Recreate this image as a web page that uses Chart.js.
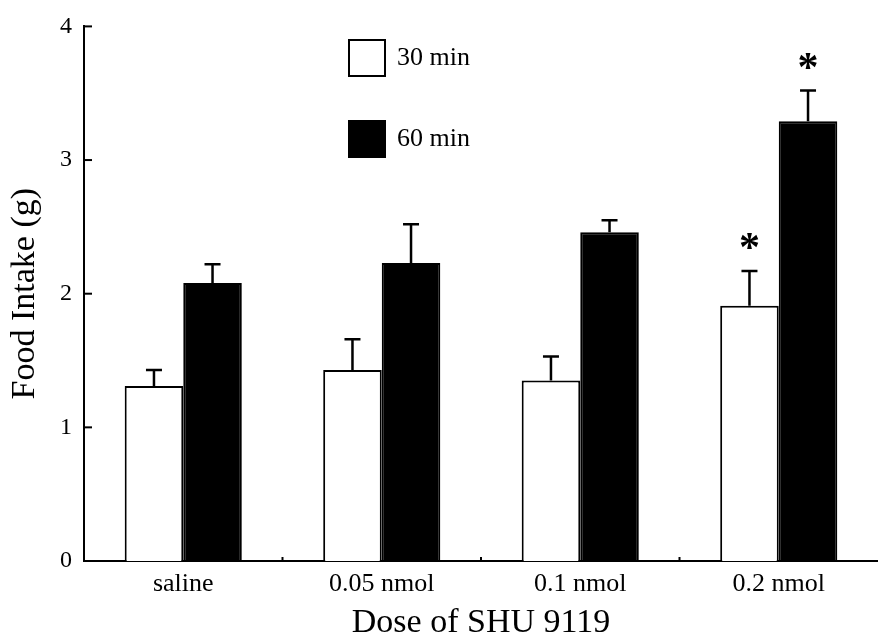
<!DOCTYPE html>
<html>
<head>
<meta charset="utf-8">
<script src="https://cdn.jsdelivr.net/npm/chart.js@4.4.1/dist/chart.umd.min.js"></script>
<style>
  html, body { margin: 0; padding: 0; background: #fff; }
  #wrap { width: 878px; height: 640px; }
</style>
</head>
<body>
<div id="wrap"><canvas id="chart" width="878" height="640"></canvas></div>
<script>
const doses = ['saline', '0.05 nmol', '0.1 nmol', '0.2 nmol']
const intake30 = [1.31, 1.43, 1.35, 1.91]
const err30 = [0.12, 0.23, 0.18, 0.26]
const sig30 = [false, false, false, true]
const intake60 = [2.08, 2.23, 2.46, 3.29]
const err60 = [0.14, 0.29, 0.09, 0.23]
const sig60 = [false, false, false, true]
const yTicks = [0, 1, 2, 3, 4]

const serif = '"Liberation Serif", "Times New Roman", serif'

// error bars (upper only), significance stars, inward ticks and the legend
const extras = {
  id: 'extras',
  afterDatasetsDraw(chart) {
    const ctx = chart.ctx
    const y = chart.scales.y
    const x = chart.scales.x
    const errs = [err30, err60]
    const sigs = [sig30, sig60]
    ctx.save()
    ctx.strokeStyle = '#000'
    ctx.fillStyle = '#000'
    ctx.lineWidth = 2.5
    chart.data.datasets.forEach((ds, di) => {
      chart.getDatasetMeta(di).data.forEach((bar, i) => {
        const top = y.getPixelForValue(ds.data[i] + errs[di][i])
        ctx.beginPath()
        ctx.moveTo(bar.x, bar.y)
        ctx.lineTo(bar.x, top)
        ctx.moveTo(bar.x - 8, top)
        ctx.lineTo(bar.x + 8, top)
        ctx.stroke()
        if (sigs[di][i]) {
          ctx.font = 'bold 42px ' + serif
          ctx.textAlign = 'center'
          ctx.textBaseline = 'alphabetic'
          ctx.fillText('*', bar.x, top - 10)
        }
      })
    })

    // y ticks pointing into the plot
    ctx.lineWidth = 2
    yTicks.forEach(v => {
      const py = y.getPixelForValue(v)
      ctx.beginPath()
      ctx.moveTo(y.right, py)
      ctx.lineTo(y.right + 8, py)
      ctx.stroke()
    })
    // small marks between dose groups
    for (let i = 1; i < doses.length; i++) {
      const px = (x.getPixelForValue(i - 1) + x.getPixelForValue(i)) / 2
      ctx.beginPath()
      ctx.moveTo(px, x.top)
      ctx.lineTo(px, x.top - 4)
      ctx.stroke()
    }

    // legend
    ctx.font = '26px ' + serif
    ctx.textAlign = 'left'
    ctx.textBaseline = 'middle'
    chart.data.datasets.forEach((ds, di) => {
      const by = 40 + di * 81
      ctx.fillStyle = ds.backgroundColor
      ctx.fillRect(349, by, 36, 36)
      ctx.lineWidth = 2
      ctx.strokeStyle = '#000'
      ctx.strokeRect(349, by, 36, 36)
      ctx.fillStyle = '#000'
      ctx.fillText(ds.label, 397, by + 18)
    })
    ctx.restore()
  }
}

new Chart(document.getElementById('chart'), {
  type: 'bar',
  data: {
    labels: doses,
    datasets: [
      {
        label: '30 min',
        data: intake30,
        backgroundColor: '#ffffff',
        borderColor: '#000000',
        borderWidth: 2,
        borderSkipped: 'bottom'
      },
      {
        label: '60 min',
        data: intake60,
        backgroundColor: '#000000',
        borderColor: '#000000',
        borderWidth: 2,
        borderSkipped: 'bottom'
      }
    ]
  },
  options: {
    responsive: false,
    animation: false,
    layout: { padding: { top: 24, right: 0, bottom: 0, left: 0 } },
    datasets: { bar: { barPercentage: 1, categoryPercentage: 0.59 } },
    plugins: {
      legend: { display: false },
      tooltip: { enabled: false }
    },
    scales: {
      x: {
        afterFit: (scale) => { scale.height = 79 },
        grid: { display: false, drawTicks: false },
        border: { color: '#000', width: 2 },
        ticks: { color: '#000', padding: 8, font: { family: serif, size: 26 } },
        title: {
          display: true,
          text: 'Dose of SHU 9119',
          color: '#000',
          padding: { top: 0, bottom: 0 },
          font: { family: serif, size: 34, lineHeight: 1 }
        }
      },
      y: {
        min: 0,
        max: 4,
        afterFit: (scale) => { scale.width = 84 },
        afterBuildTicks: (scale) => { scale.ticks = yTicks.map(v => ({ value: v })) },
        grid: { display: false, drawTicks: false },
        border: { color: '#000', width: 2 },
        ticks: { color: '#000', padding: 12, font: { family: serif, size: 24 } },
        title: {
          display: true,
          text: 'Food Intake (g)',
          color: '#000',
          padding: { top: 8, bottom: 0 },
          font: { family: serif, size: 34, lineHeight: 1 }
        }
      }
    }
  },
  plugins: [extras]
})
</script>
</body>
</html>
